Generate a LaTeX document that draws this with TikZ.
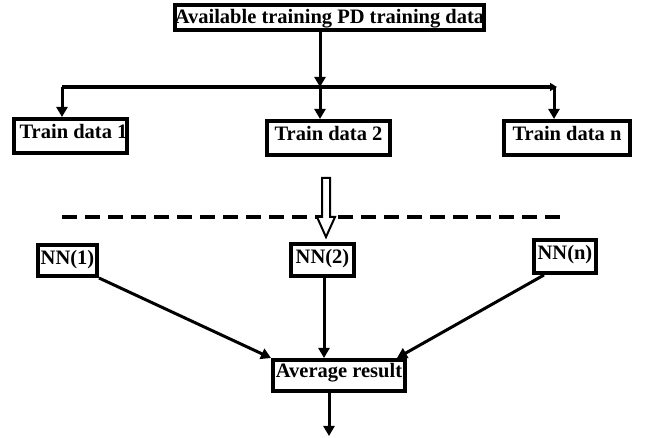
\documentclass[tikz,border=0pt]{standalone}
\usepackage{fontspec}
\setmainfont{Liberation Serif}
\usetikzlibrary{arrows.meta}
\begin{document}
\begin{tikzpicture}[x=1pt,y=-1pt,
  box/.style={draw, line width=4pt, inner sep=0pt, font=\fontsize{20.5}{24}\selectfont\bfseries, text height=13pt, text depth=7pt, align=center},
  arr/.style={line width=3pt, -{Triangle[length=10pt,width=11pt]}},
  hollow/.style={draw, fill=white, line width=2pt, line join=miter},
  sep/.style={line width=4.5pt, dash pattern=on 15pt off 8pt}
  ]
\useasboundingbox[fill=white] (0,0) rectangle (649,438);
% boxes
\node[box, minimum width=309pt, minimum height=25pt, text height=14pt, text depth=2pt] (top) at (329.5,17.5) {Available training PD training data};
\node[box, minimum width=111pt, minimum height=34pt] (td1) at (70.5,136) {\hspace*{6pt}Train data 1};
\node[box, minimum width=123pt, minimum height=34pt] (td2) at (328.5,138) {Train data 2};
\node[box, minimum width=126pt, minimum height=34pt] (tdn) at (567,138) {Train data n};
\node[box, minimum width=59pt, minimum height=31pt, text depth=5pt] (nn1) at (67.5,260.5) {NN(1)};
\node[box, minimum width=63pt, minimum height=32pt, text depth=5pt] (nn2) at (322.5,260) {NN(2)};
\node[box, minimum width=62pt, minimum height=33pt, text depth=7pt] (nnn) at (565,256.5) {NN(n)};
\node[box, minimum width=132pt, minimum height=31pt, text depth=8pt] (avg) at (339,375.5) {Average result};
% split connectors
\coordinate (hl) at (62,87);
\coordinate (hm) at (320,87);
\coordinate (hr) at (557,87);
\coordinate (hn) at (554,87);
\draw[arr] (top.south -| hm) -- (hm);
\draw[line width=3.5pt, -{Triangle[length=7pt,width=8pt]}] (hl) -- (hr);
\draw[arr] (hl) -- (hl |- td1.north);
\draw[arr] (hm) -- (hm |- td2.north);
\draw[arr] (hn) -- (hn |- tdn.north);
% separator and hollow arrow
\coordinate (d1) at (62,217);
\coordinate (d2) at (565,217);
\draw[sep] (d1) -- (d2);
\draw[hollow] (322,178) -- (322,217) -- (317,217) -- (326,237) -- (335,217) -- (330,217) -- (330,178) -- cycle;
% to average
\draw[arr] (nn1.south east) -- (avg.north west);
\draw[arr] ([xshift=1.5pt]nn2.south) -- ([xshift=1.5pt]nn2.south |- avg.north);
\draw[arr] ([xshift=12pt]nnn.south west) -- ([xshift=-10pt]avg.north east);
\coordinate (out) at (329,436);
\draw[arr] (out |- avg.south) -- (out);
\end{tikzpicture}
\end{document}
